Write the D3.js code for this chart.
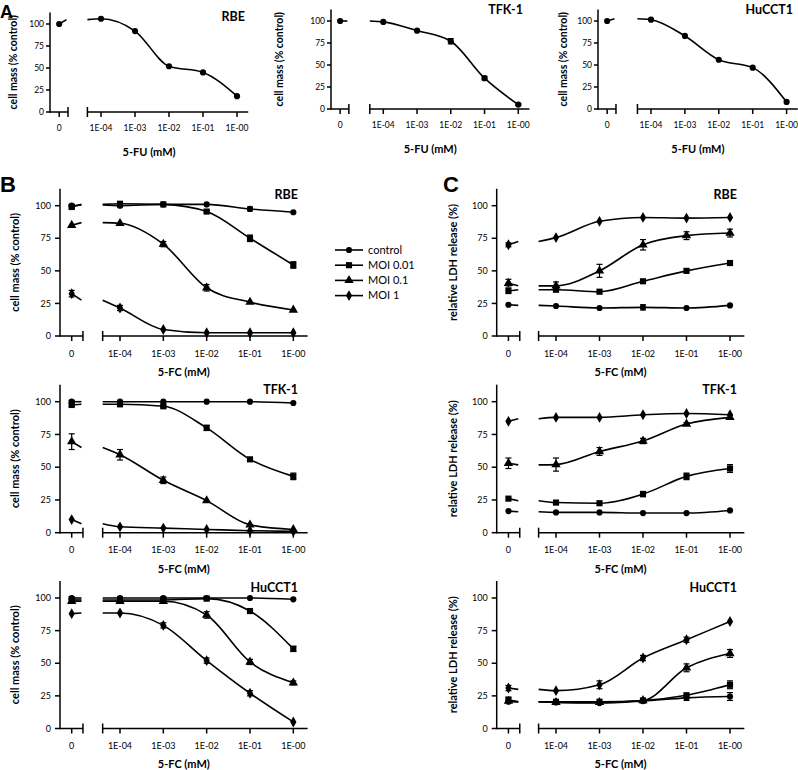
<!DOCTYPE html>
<html><head><meta charset="utf-8">
<script src="https://cdn.jsdelivr.net/npm/d3@7"></script>
<style>body{margin:0;background:#fff}svg{display:block}</style>
</head><body><svg id="c" width="798" height="770"></svg>
<script>
// ---------- DATA ----------
const doseLabels = ["0","1E-04","1E-03","1E-02","1E-01","1E-00"];
const doseValues = [0, 1e-4, 1e-3, 1e-2, 1e-1, 1];
const yTicks = [0,25,50,75,100];
const cellLines = ["RBE","TFK-1","HuCCT1"];
const seriesNames = ["control","MOI 0.01","MOI 0.1","MOI 1"];

// Panel A (5-FU): values at doses [0, 1E-04 .. 1E-00], error, fitted value at low end of the log axis
const fuRBE = [100,106,92,52,45,18];   const fuRBEErr = [0,0,0,0,0,0];
const fuTFK = [100,99,89,77,35,5];     const fuTFKErr = [0,0,0,3,2,1];
const fuHu  = [100,101.5,83,56,47,8];  const fuHuErr  = [0,0,0,0,0,0];
const fuLow = [105,100,102.5];

// Panel B (5-FC, cell mass): rows = control, MOI 0.01, MOI 0.1, MOI 1
const cmRBE = [[100,100,101,101,97.5,95],[99,101.5,101,95.5,75,54.5],[85,86.5,70.5,37,26,20],[32.5,21.5,5,2.5,2.5,2.5]];
const cmRBEErr = [[1,1,0,0,1.5,0],[1,1.5,0,1,2.5,2.5],[0,0,2,2.5,0,0],[2.5,2,0,0,0,0]];
const cmRBELow = [100.5,101,87,27.5];
const cmTFK = [[100,100,100,100,100,99],[97.5,98,96.5,80,56,43],[69.5,59.5,40,24.5,6,2.5],[10,4.5,3.5,2.5,1.5,1]];
const cmTFKErr = [[1,0,0,0,0,0],[1,1,1,2,1,2.5],[6,4,2.5,0,0,0],[0,0,0,0,0,0]];
const cmTFKLow = [100,98,65,6.8];
const cmHu = [[100,100,100,100,100,99],[98.5,98.5,98.5,99.5,90,61],[97.5,97.5,97.5,87,51,35],[88,88.5,79,52,27,5]];
const cmHuErr = [[1,1,1,1,0,0],[1,1,1,1,1,2],[1,1,1.5,2.5,2,1.5],[0,0,2,2,2,0]];
const cmHuLow = [100,98.5,97.5,88.5];

// Panel C (5-FC, relative LDH release)
const ldhRBE = [[24,23,21.5,22,21.5,23.5],[34.5,35.5,34,42,50,56],[40.5,38.5,50,70,77,79],[70,75.5,88,91,90.5,91]];
const ldhRBEErr = [[0,0,0,2,0,0],[0,0,0,0,0,0],[3,3,5,4,3,3],[1.5,0,0,0,0,0]];
const ldhRBELow = [23.5,35.5,38.5,72.5];
const ldhTFK = [[16.5,15.5,15.5,15,15,17],[26,23,22.5,29.5,43,49],[53,52,62,70,83,88],[85,88,88,90,91,90]];
const ldhTFKErr = [[0,0,0,0,0,0],[0,0,0,2,2.5,3],[4,5,3,2,1,1.5],[0,0,0,0,0,0]];
const ldhTFKLow = [16,24.4,51.8,87];
const ldhHu = [[20.5,20,19.5,21,23.5,24.5],[22,20.5,20.5,21.5,25.5,33.5],[21,20,20,21.5,46.5,57.5],[31,29,33.5,54,68,82]];
const ldhHuErr = [[0,0,0,0,2,3],[2,0,0,0,0,3],[0,0,0,0,3,3],[2,0,3,2,2,0]];
const ldhHuLow = [20.5,20.5,20.5,30];

// ---------- DRAWING ----------
const svg = d3.select("#c");
const FONT = "Lato, 'Open Sans', sans-serif";
const symbolTypes = [d3.symbolCircle, d3.symbolSquare, d3.symbolTriangle, d3.symbolDiamond];
const symbolSizes = [30, 38, 38, 34];

function panel(cfg, vals, errs, lows, syms) {
  const g = svg.append("g");
  const y = d3.scaleLinear().domain([0,100]).range([cfg.y0, cfg.y100]);
  const x = d3.scaleLog().domain([1e-4, 1]).range([cfg.tick1, cfg.tick1 + 4*cfg.step]);
  const lowDose = Math.pow(10,-4.4), highDose = Math.pow(10,0.33);
  const zeroX = cfg.axisX + 0.27*cfg.step;
  const segEnd = cfg.axisX + 0.53*cfg.step;
  const mainStart = x(lowDose), mainEnd = x(highDose);
  const px = (i) => i === 0 ? zeroX : x(doseValues[i]);
  const ax = g.append("g").attr("stroke","#000").attr("stroke-width",1.5).attr("fill","none");
  ax.append("line").attr("x1",cfg.axisX).attr("x2",cfg.axisX).attr("y1",y(cfg.topVal)).attr("y2",cfg.y0+0.75);
  yTicks.forEach(t => {
    ax.append("line").attr("x1",cfg.axisX-cfg.tl).attr("x2",cfg.axisX).attr("y1",y(t)).attr("y2",y(t));
    g.append("text").attr("x",cfg.axisX-cfg.tl-cfg.pad).attr("y",y(t)).attr("dy","0.35em")
      .attr("text-anchor","end").attr("font-family",FONT).attr("font-size",cfg.fs).text(t);
  });
  ax.append("line").attr("x1",cfg.axisX).attr("x2",segEnd).attr("y1",cfg.y0).attr("y2",cfg.y0);
  ax.append("line").attr("x1",segEnd).attr("x2",segEnd).attr("y1",cfg.y0-5).attr("y2",cfg.y0+5);
  ax.append("line").attr("x1",mainStart).attr("x2",mainEnd).attr("y1",cfg.y0).attr("y2",cfg.y0);
  ax.append("line").attr("x1",mainStart).attr("x2",mainStart).attr("y1",cfg.y0-5).attr("y2",cfg.y0+5);
  doseValues.forEach((d,i) => {
    ax.append("line").attr("x1",px(i)).attr("x2",px(i)).attr("y1",cfg.y0).attr("y2",cfg.y0+5);
    g.append("text").attr("x",px(i)).attr("y",cfg.y0+cfg.tlab).attr("dy","0.35em")
      .attr("text-anchor","middle").attr("font-family",FONT).attr("font-size",cfg.fs).text(doseLabels[i]);
  });
  g.append("text").attr("x",(cfg.axisX+mainEnd)/2).attr("y",cfg.y0+cfg.xt).attr("dy","0.35em")
    .attr("text-anchor","middle").attr("font-family",FONT).attr("font-weight","bold").attr("font-size",11).text(cfg.xTitle);
  g.append("text").attr("transform",`translate(${cfg.ylx},${(y(cfg.topVal)+cfg.y0)/2}) rotate(-90)`)
    .attr("dy","0.35em").attr("text-anchor","middle").attr("font-family",FONT).attr("font-weight","bold")
    .attr("font-size",cfg.ylfs).text(cfg.yTitle);
  g.append("text").attr("x",cfg.titleX).attr("y",cfg.titleY).attr("dy","0.35em").attr("text-anchor","end")
    .attr("font-family",FONT).attr("font-weight","bold").attr("font-size",12.5).text(cfg.title);
  const line = d3.line().x(d=>d[0]).y(d=>d[1]).curve(d3.curveMonotoneX);
  vals.forEach((v,s) => {
    const e = errs[s];
    const pts = [[mainStart, y(lows[s])]].concat(v.slice(1).map((val,i)=>[x(doseValues[i+1]), y(val)]));
    g.append("path").attr("d",line(pts)).attr("fill","none").attr("stroke","#000").attr("stroke-width",1.6);
    g.append("line").attr("x1",zeroX).attr("x2",segEnd-1.5).attr("y1",y(v[0])).attr("y2",y(lows[s]))
      .attr("stroke","#000").attr("stroke-width",1.6);
    v.forEach((val,i) => {
      const cx = px(i);
      if (e[i] > 0) {
        const eg = g.append("g").attr("stroke","#000").attr("stroke-width",1.2);
        eg.append("line").attr("x1",cx).attr("x2",cx).attr("y1",y(val-e[i])).attr("y2",y(val+e[i]));
        [val-e[i], val+e[i]].forEach(ev => eg.append("line").attr("x1",cx-3).attr("x2",cx+3).attr("y1",y(ev)).attr("y2",y(ev)));
      }
      g.append("path").attr("transform",`translate(${cx},${y(val)})`)
        .attr("d", d3.symbol().type(symbolTypes[syms[s]]).size(symbolSizes[syms[s]])()).attr("fill","#000");
    });
  });
}

const aCfg = {fs:8.5, tl:4, pad:2, tlab:16.5, xt:40, ylfs:10.5, topVal:113, xTitle:"5-FU (mM)", yTitle:"cell mass (% control)"};
panel(Object.assign({}, aCfg, {title:cellLines[0], axisX:50, tick1:101, step:34, y0:112, y100:24, titleX:245, titleY:17, ylx:13}), [fuRBE],[fuRBEErr],[fuLow[0]],[0]);
panel(Object.assign({}, aCfg, {title:cellLines[1], axisX:331, tick1:383.3, step:33.75, y0:109, y100:21, titleX:523, titleY:10, ylx:279}), [fuTFK],[fuTFKErr],[fuLow[1]],[0]);
panel(Object.assign({}, aCfg, {title:cellLines[2], axisX:598, tick1:651, step:33.9, y0:109, y100:21, titleX:793, titleY:10, ylx:563}), [fuHu],[fuHuErr],[fuLow[2]],[0]);

const bCfg = {fs:9, tl:5, pad:4, tlab:17.5, xt:36, ylfs:11, topVal:113, axisX:60, tick1:120, step:43.33, xTitle:"5-FC (mM)", yTitle:"cell mass (% control)", titleX:298, ylx:15};
const cCfg = {fs:9, tl:5, pad:4, tlab:17.5, xt:36, ylfs:11, topVal:113, axisX:496.7, tick1:556, step:43.5, xTitle:"5-FC (mM)", yTitle:"relative LDH release (%)", titleX:737, ylx:453};
const rows = [{y0:336, y100:205.7, titleY:195},{y0:532.7, y100:401.7, titleY:390},{y0:728.5, y100:598, titleY:588}];
const bData = [[cmRBE,cmRBEErr,cmRBELow],[cmTFK,cmTFKErr,cmTFKLow],[cmHu,cmHuErr,cmHuLow]];
const cData = [[ldhRBE,ldhRBEErr,ldhRBELow],[ldhTFK,ldhTFKErr,ldhTFKLow],[ldhHu,ldhHuErr,ldhHuLow]];
rows.forEach((r,i) => {
  panel(Object.assign({}, bCfg, r, {title:cellLines[i]}), bData[i][0], bData[i][1], bData[i][2], [0,1,2,3]);
  panel(Object.assign({}, cCfg, r, {title:cellLines[i]}), cData[i][0], cData[i][1], cData[i][2], [0,1,2,3]);
});

[["A",0,18,18],["B",0,192,22],["C",443,192,22]].forEach(([t,x,y,fs]) =>
  svg.append("text").attr("x",x).attr("y",y).attr("font-family","'Liberation Sans', Arial, sans-serif")
    .attr("font-weight","bold").attr("font-size",fs).text(t));

seriesNames.forEach((n,i) => {
  const ly = 250 + i*15.2;
  svg.append("line").attr("x1",335).attr("x2",363).attr("y1",ly).attr("y2",ly).attr("stroke","#000").attr("stroke-width",1.6);
  svg.append("path").attr("transform",`translate(349,${ly})`).attr("d",d3.symbol().type(symbolTypes[i]).size(symbolSizes[i])()).attr("fill","#000");
  svg.append("text").attr("x",368).attr("y",ly).attr("dy","0.35em").attr("font-family",FONT).attr("font-size",11).text(n);
});
</script></body></html>
